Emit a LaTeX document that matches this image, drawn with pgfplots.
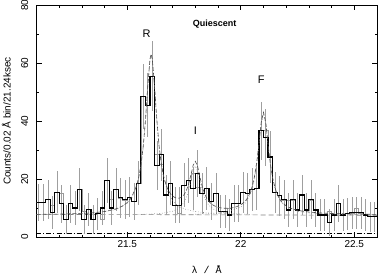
\documentclass[border=0pt]{standalone}
\usepackage{pgfplots}
\pgfplotsset{compat=1.18}
\usepackage{pgfplotstable}
\usepackage{fontspec}
\setmainfont{Liberation Sans}
\newfontfamily\monofont{Liberation Mono}

\pgfplotstableread{
xl xc v g e
21.10 21.11 12 12 6.4
21.12 21.13 12 12 6.4
21.14 21.15 13 13 6.7
21.16 21.17 8.5 11 5.6
21.18 21.19 15.5 15.5 7.2
21.20 21.21 11.5 15 6.5
21.22 21.23 6 6 5
21.24 21.25 11.5 11.5 6.5
21.26 21.27 10 10 6
21.28 21.29 16.5 16.5 7.4
21.30 21.31 6 9 5
21.32 21.33 9.5 9.5 5.8
21.34 21.35 6 6 5
21.36 21.37 8 8 5.5
21.38 21.39 10 6 6
21.40 21.41 19.5 19.5 7.8
21.42 21.43 10 13 6
21.44 21.45 16.5 16.5 7.4
21.46 21.47 13.5 13.5 6.8
21.48 21.49 12.8 12.8 6.7
21.50 21.51 13.7 13.7 6.9
21.52 21.53 12.2 12.2 6.5
21.54 21.55 18.6 18.6 7.7
21.56 21.57 48.5 48.5 11.2
21.58 21.59 45.5 45.5 11
21.60 21.61 55.5 55.5 12
21.62 21.63 24.7 28.4 8.5
21.64 21.65 28.4 25 9
21.66 21.67 14.5 14.5 7
21.68 21.69 18.6 18.6 7.7
21.70 21.71 11 11 6.3
21.72 21.73 11 8 6.3
21.74 21.75 17.8 17.8 7.6
21.76 21.77 19.4 19.4 7.8
21.78 21.79 16.8 21.8 7.4
21.80 21.81 21.8 17 8.1
21.82 21.83 15.1 15.1 7
21.84 21.85 16.8 16.8 7.4
21.86 21.87 12.2 12.2 6.5
21.88 21.89 15 15 7
21.90 21.91 8.8 8.8 5.7
21.92 21.93 8.8 8.8 5.7
21.94 21.95 7.6 10 5.4
21.96 21.97 11.6 11.6 6.4
21.98 21.99 11.6 11.6 6.4
22.00 22.01 15.3 15.3 7
22.02 22.03 15 15 7
22.04 22.05 16.5 16.5 7.4
22.06 22.07 16.8 16.8 7.4
22.08 22.09 36.7 36.7 10
22.10 22.11 34.4 36.7 9.8
22.12 22.13 27.6 27.6 8.9
22.14 22.15 15.3 15.3 7
22.16 22.17 14.2 14.2 6.9
22.18 22.19 12.8 12.8 6.7
22.20 22.21 9.3 12.8 5.8
22.22 22.23 12.8 12.8 6.7
22.24 22.25 9.3 9.3 5.8
22.26 22.27 14.5 14.5 7
22.28 22.29 9.3 9.3 5.8
22.30 22.31 12.8 12.8 6.7
22.32 22.33 9.3 9.3 5.8
22.34 22.35 7.6 7.6 5.4
22.36 22.37 7.6 7.6 5.4
22.38 22.39 5 9 4.6
22.40 22.41 7.6 7.6 5.4
22.42 22.43 11.6 7.6 6.4
22.44 22.45 7.6 7.6 5.4
22.46 22.47 8 8 5.5
22.48 22.49 8.3 8.3 5.5
22.50 22.51 8.3 10 5.5
22.52 22.53 8.3 8.3 5.5
22.54 22.55 7.6 7.6 5.4
22.56 22.57 7 7 5.2
22.58 22.59 7 7 5.2
22.60 22.61 7 7 0
}\spec

\begin{document}
\begin{tikzpicture}
\path[use as bounding box] (-36.5pt,-42pt) rectangle (345.5pt,237pt);
\begin{axis}[
  at={(0pt,0pt)}, anchor=south west,
  scale only axis, width=340.5pt, height=232pt,
  xmin=21.1, xmax=22.6, ymin=0, ymax=80,
  xtick={21.5,22,22.5}, xticklabels={21.5,22,22.5},
  minor xtick={21.1,21.2,21.3,21.4,21.6,21.7,21.8,21.9,22.1,22.2,22.3,22.4,22.6},
  ytick={0,20,40,60,80},
  minor ytick={10,30,50,70},
  tick align=inside, tick pos=both,
  major tick length=5pt, minor tick length=2.5pt,
  tick style={black, line width=0.8pt},
  axis line style={line width=0.9pt},
  /pgf/number format/assume math mode=true,
  tick label style={font=\fontsize{10}{12}\selectfont},
  yticklabel style={rotate=90, anchor=south, inner sep=1pt},
  yticklabel shift=7pt,
  xlabel={\monofont λ / Å},
  ylabel={Counts/0.02 Å bin/21.24ksec},
  every axis x label/.style={at={(axis description cs:0.5,-0.142)}, anchor=center},
  every axis y label/.style={at={(axis description cs:-0.089,0.5)}, rotate=90, anchor=center},
  xlabel style={font=\fontsize{10}{12}\selectfont},
  ylabel style={font=\fontsize{10}{12}\selectfont},
  clip=true,
]
% baselines
\addplot[black, line width=0.5pt, dash pattern=on 5pt off 2pt on 1pt off 2pt] coordinates {(21.1,1.3) (22.6,1.3)};
\addplot[gray, line width=0.6pt, dash pattern=on 5pt off 3pt] coordinates {(21.1,7.8) (22.6,7.5)};
% error bars
\addplot[draw=none, mark=none, forget plot,
  error bars/.cd, y dir=both, y explicit, error mark=none,
  error bar style={gray!75, line width=0.6pt}]
  table[x=xc, y=v, y error=e] {\spec};
% second spectrum (grey)
\addplot[gray!80, line width=0.7pt, const plot mark left] table[x=xl, y=g] {\spec};
% first spectrum (black)
\addplot[black, line width=1.1pt, const plot mark left] table[x=xl, y=v] {\spec};
% component models (dotted)
\addplot[gray, line width=0.6pt, dotted] coordinates {
(21.30,8.0)(21.40,8.7)(21.45,9.5)(21.50,11.65)(21.52,13.6)(21.54,17.2)(21.56,24.4)(21.57,30.8)(21.58,40.0)(21.59,51.5)(21.60,61.0)(21.605,62.5)(21.61,61.0)(21.62,51.5)(21.63,40.0)(21.64,30.8)(21.66,20.1)(21.68,15.1)(21.70,12.5)(21.72,11.0)(21.74,10.1)(21.76,9.5)(21.80,8.8)(21.85,8.3)(21.90,8.1)(22.00,7.8)};
\addplot[gray, line width=0.6pt, dotted] coordinates {
(21.55,7.8)(21.60,7.9)(21.65,8.15)(21.70,8.9)(21.72,9.6)(21.74,10.9)(21.75,12.0)(21.76,13.6)(21.77,16.0)(21.78,19.3)(21.79,22.8)(21.80,24.5)(21.81,22.8)(21.82,19.3)(21.83,16.0)(21.84,13.6)(21.85,12.0)(21.86,10.9)(21.88,9.6)(21.90,8.9)(21.95,8.15)(22.00,7.9)(22.05,7.8)};
\addplot[gray, line width=0.6pt, dotted] coordinates {
(21.80,7.85)(21.85,8.0)(21.90,8.3)(21.95,8.85)(22.00,10.4)(22.02,11.8)(22.04,14.5)(22.05,16.8)(22.06,20.1)(22.07,25.0)(22.08,31.7)(22.09,39.0)(22.10,42.5)(22.11,39.0)(22.12,31.7)(22.13,25.0)(22.14,20.1)(22.15,16.8)(22.16,14.5)(22.18,11.8)(22.20,10.4)(22.25,8.85)(22.30,8.3)(22.40,7.85)(22.50,7.65)(22.60,7.6)};
% total model (dashed)
\addplot[gray!60!black, line width=0.6pt, dash pattern=on 4pt off 2pt] coordinates {
(21.10,7.8)(21.20,7.9)(21.30,8.15)(21.35,8.35)(21.40,8.8)(21.45,9.7)(21.48,10.7)(21.50,11.9)(21.52,13.9)(21.54,17.5)(21.55,20.4)(21.56,24.7)(21.57,31.1)(21.58,40.3)(21.59,51.9)(21.60,61.4)(21.605,63.1)(21.61,61.5)(21.62,52.0)(21.63,40.6)(21.64,31.4)(21.65,25.1)(21.66,21.0)(21.67,18.2)(21.68,16.2)(21.69,14.9)(21.70,14.1)(21.71,13.6)(21.72,13.4)(21.73,13.4)(21.74,13.8)(21.75,14.6)(21.76,16.0)(21.77,18.2)(21.78,21.3)(21.79,24.7)(21.80,26.1)(21.81,24.3)(21.82,20.7)(21.83,17.4)(21.84,15.0)(21.85,13.3)(21.86,12.2)(21.87,11.4)(21.88,10.9)(21.90,10.2)(21.92,9.95)(21.94,9.9)(21.96,10.0)(21.98,10.4)(22.00,11.1)(22.02,12.4)(22.03,13.5)(22.04,15.1)(22.05,17.4)(22.06,20.7)(22.07,25.6)(22.08,32.3)(22.09,39.6)(22.10,43.0)(22.11,39.5)(22.12,32.1)(22.13,25.4)(22.14,20.5)(22.15,17.2)(22.16,14.8)(22.17,13.2)(22.18,12.1)(22.20,10.7)(22.22,9.9)(22.25,9.2)(22.30,8.6)(22.35,8.3)(22.40,8.1)(22.50,7.9)(22.60,7.8)};
% annotations
\node[font=\bfseries\fontsize{9}{10}\selectfont] at (axis cs:21.885,73.5) {Quiescent};
\node[font=\fontsize{11}{12}\selectfont] at (axis cs:21.585,70) {R};
\node[font=\fontsize{11}{12}\selectfont] at (axis cs:21.80,36.7) {I};
\node[font=\fontsize{11}{12}\selectfont] at (axis cs:22.09,54.3) {F};
\end{axis}
\end{tikzpicture}
\end{document}
